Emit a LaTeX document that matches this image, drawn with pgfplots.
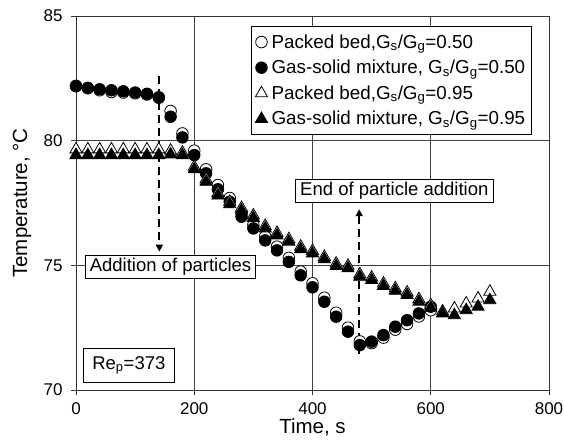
\documentclass[border=0pt]{standalone}
\usepackage{fontspec}
\setmainfont{Liberation Sans}
\usepackage{pgfplots}
\pgfplotsset{compat=1.18}
\usetikzlibrary{arrows.meta}
\begin{document}
\begin{tikzpicture}
\begin{axis}[
  scale only axis, width=473pt, height=374pt,
  xmin=0, xmax=800, ymin=70, ymax=85,
  xtick={0,200,400,600,800}, ytick={70,75,80,85},
  grid=major, major grid style={black!75, line width=0.7pt},
  axis line style={black!80, line width=0.8pt},
  tick align=outside, xtick pos=bottom, ytick pos=left,
  major tick length=5pt, tick style={black!80, line width=0.8pt},
  /pgf/number format/assume math mode=true,
  tick label style={font=\fontsize{17}{19}\selectfont},
  xticklabel style={yshift=-4pt},
  yticklabel style={xshift=-5pt},
  every axis x label/.style={at={(rel axis cs:0.5,0)}, anchor=base, yshift=-44pt, font=\fontsize{20.5}{23}\selectfont},
  every axis y label/.style={at={(rel axis cs:0,0.5)}, rotate=90, anchor=center, yshift=54pt, font=\fontsize{20.5}{23}\selectfont},
  xlabel={Time, s}, ylabel={Temperature, °C},
  legend style={at={(0.37,0.973)}, anchor=north west, draw=black, line width=0.8pt,
    font=\fontsize{18.8}{21}\selectfont, row sep=6.5pt, column sep=2pt, inner xsep=4pt, inner ysep=6pt,
    legend cell align=left},
  legend image post style={line width=0.8pt},
]
\coordinate (ll) at (rel axis cs:0,0);
\addplot[only marks, mark=*, mark size=5.8pt, mark options={fill=white, draw=black, line width=0.8pt}] coordinates {
(0,82.18)(20,82.1)(40,82.02)(60,81.95)(80,81.93)(100,81.9)(120,81.85)(140,81.72)
(160,81.19)(180,80.29)(200,79.6)(220,78.85)(240,78.22)(260,77.7)(280,77.1)(300,76.62)
(320,76.15)(340,75.75)(360,75.3)(380,74.75)(400,74.28)(420,73.7)(440,73.1)(460,72.5)
(480,71.95)(500,71.88)(520,72.1)(540,72.42)(560,72.65)(580,72.95)(600,73.2)};
\addlegendentry{Packed bed,G\textsubscript{s}/G\textsubscript{g}=0.50}
\addplot[only marks, mark=*, mark size=5.8pt, mark options={fill=black, draw=black, line width=0.8pt}] coordinates {
(0,82.2)(20,82.12)(40,82.06)(60,82.02)(80,81.98)(100,81.93)(120,81.88)(140,81.74)
(160,80.96)(180,80.13)(200,79.42)(220,78.69)(240,78.05)(260,77.55)(280,76.95)(300,76.48)
(320,76.0)(340,75.6)(360,75.14)(380,74.6)(400,74.12)(420,73.54)(440,72.94)(460,72.34)
(480,71.8)(500,71.94)(520,72.2)(540,72.54)(560,72.8)(580,73.07)(600,73.34)};
\addlegendentry{Gas-solid mixture, G\textsubscript{s}/G\textsubscript{g}=0.50}
\addplot[only marks, mark=triangle*, mark size=7pt, mark options={fill=white, draw=black, line width=0.8pt}] coordinates {
(0,79.65)(20,79.65)(40,79.65)(60,79.65)(80,79.65)(100,79.65)(120,79.65)(140,79.65)
(160,79.6)(180,79.52)(200,78.95)(220,78.45)(240,77.9)(260,77.55)(280,77.3)(300,77.0)
(320,76.58)(340,76.3)(360,76.05)(380,75.75)(400,75.58)(420,75.34)(440,75.07)(460,74.98)
(480,74.64)(500,74.51)(520,74.27)(540,74.08)(560,73.91)(580,73.64)(600,73.4)
(620,73.15)(640,73.27)(660,73.47)(680,73.67)(700,73.94)};
\addlegendentry{Packed bed,G\textsubscript{s}/G\textsubscript{g}=0.95}
\addplot[only marks, mark=triangle*, mark size=7pt, mark options={fill=black, draw=black, line width=0.8pt}] coordinates {
(0,79.42)(20,79.42)(40,79.42)(60,79.42)(80,79.42)(100,79.42)(120,79.42)(140,79.42)
(160,79.45)(180,79.42)(200,78.85)(220,78.35)(240,77.8)(260,77.45)(280,77.2)(300,76.9)
(320,76.48)(340,76.2)(360,75.95)(380,75.65)(400,75.48)(420,75.24)(440,74.97)(460,74.88)
(480,74.54)(500,74.41)(520,74.17)(540,73.98)(560,73.81)(580,73.54)(600,73.3)
(620,73.07)(640,73.0)(660,73.2)(680,73.34)(700,73.6)};
\addlegendentry{Gas-solid mixture, G\textsubscript{s}/G\textsubscript{g}=0.95}
% annotations
\draw[line width=2.2pt, dash pattern=on 8pt off 5pt, -{Triangle[length=7pt,width=7pt]}] (axis cs:141,82.6) -- (axis cs:141,75.55);
\draw[line width=2.2pt, dash pattern=on 8pt off 5pt, -{Triangle[length=7pt,width=7pt]}] (axis cs:479,71.45) -- (axis cs:479,77.25);
\node[draw=black, line width=0.8pt, fill=white, font=\fontsize{18.5}{21}\selectfont, inner xsep=4.5pt, inner ysep=3pt] at (axis cs:159.8,74.93) {Addition of particles};
\node[draw=black, line width=0.8pt, fill=white, font=\fontsize{18.5}{21}\selectfont, inner xsep=4.5pt, inner ysep=3pt] at (axis cs:538.4,78.0) {End of particle addition};
\node[draw=black, line width=0.8pt, fill=white, font=\fontsize{18.5}{21}\selectfont, inner xsep=9pt, inner ysep=8pt] at (axis cs:89.4,70.99) {Re\textsubscript{p}=373};
\end{axis}
\pgfresetboundingbox
\path[use as bounding box] (ll) ++(-76pt,-56pt) rectangle ++(564pt,446pt);
\end{tikzpicture}
\end{document}
